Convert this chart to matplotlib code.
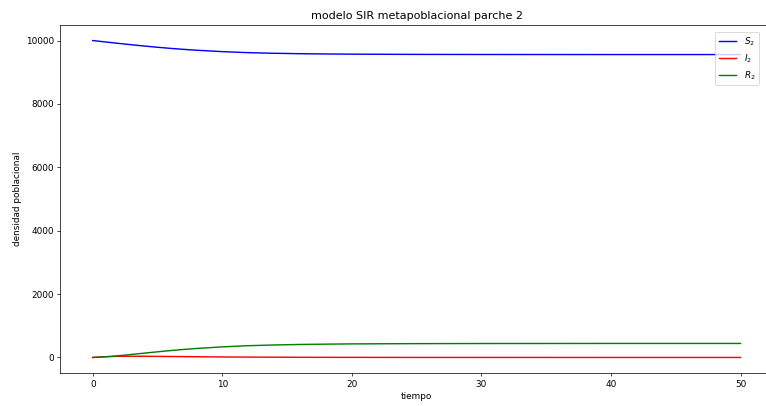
import matplotlib
matplotlib.use("Agg")
import matplotlib.pyplot as plt

# tiempo y compartimentos del parche 2
t = [0, 1, 2, 3, 4, 5, 6, 7, 8, 10, 12, 14, 16, 18, 20, 25, 30, 35, 40, 45, 50]
S2 = [10000, 9955, 9910, 9867, 9826, 9788, 9753, 9722, 9695, 9650, 9618,
      9598, 9585, 9576, 9570, 9563, 9560, 9559, 9558, 9558, 9558]
I2 = [0, 25, 35, 38, 37, 34, 30, 26, 22, 16, 11, 8, 5, 3.5, 2.5, 1, 0.4,
      0.15, 0.05, 0.02, 0.01]
R2 = [0, 20, 55, 95, 137, 178, 217, 252, 283, 334, 371, 394, 410, 420, 428,
      436, 440, 441, 442, 442, 442]

DPI = 64
W, H = 766, 406
fig = plt.figure(figsize=(W / DPI, H / DPI), dpi=DPI)
# the axes run a little past the right edge of the canvas
ax = fig.add_axes([60.3 / W, 32.7 / H, (772.9 - 60.3) / W, 348.6 / H])

ax.plot(t, S2, color="blue", lw=1.6, label=r"$S_2$")
ax.plot(t, I2, color="red", lw=1.6, label=r"$I_2$")
ax.plot(t, R2, color="green", lw=1.6, label=r"$R_2$")

ax.set_ylim(-500, 10500)
ax.set_title("modelo SIR metapoblacional parche 2", fontsize=12.5)
ax.set_xlabel("tiempo")
ax.set_ylabel("densidad poblacional")
ax.legend(loc="upper right", bbox_to_anchor=(758.7 / W, 1 - 31.7 / H),
          bbox_transform=fig.transFigure, borderaxespad=0)

fig.savefig("out.png", dpi=DPI)
